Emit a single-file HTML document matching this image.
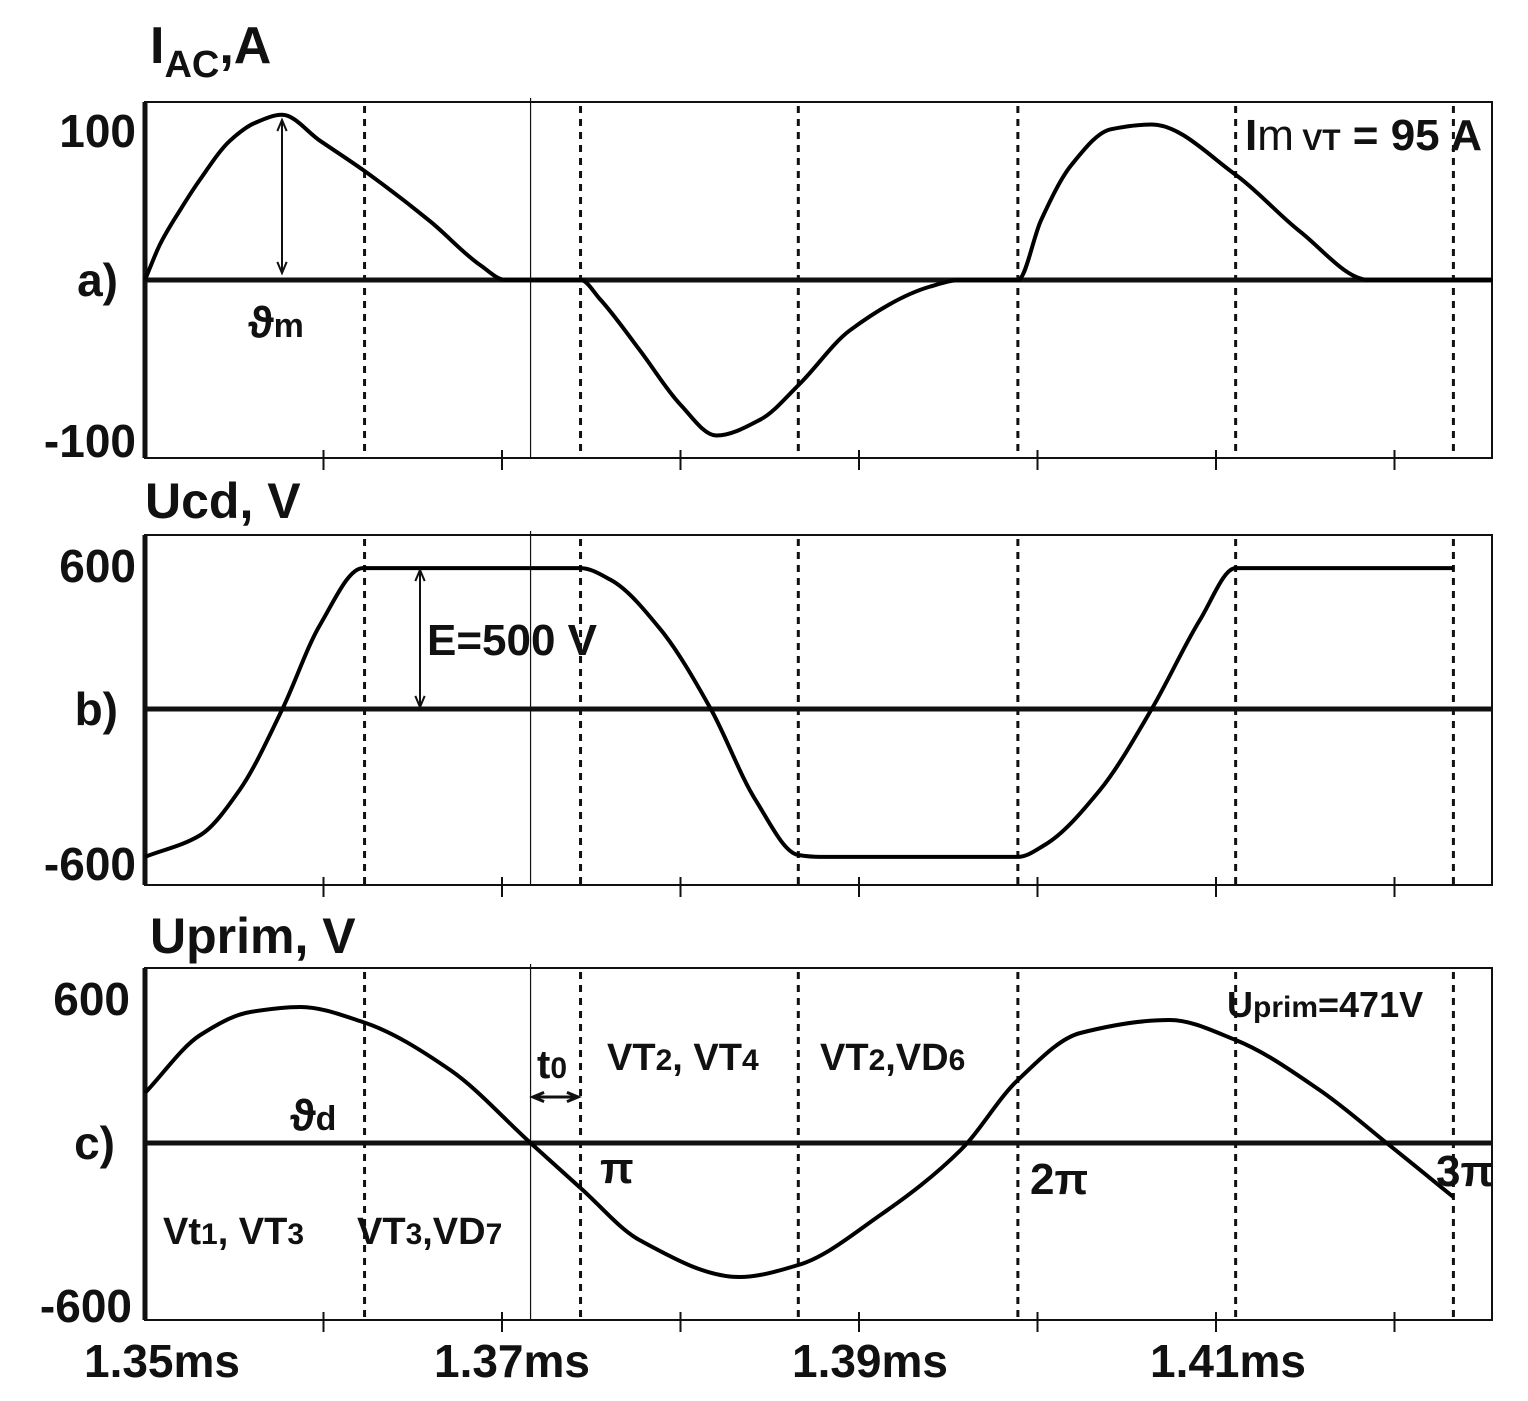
<!DOCTYPE html>
<html><head><meta charset="utf-8">
<style>
html,body{margin:0;padding:0;background:#fff;}
svg{display:block;}
text{font-family:"Liberation Sans",Arial,sans-serif;font-weight:bold;fill:#111;}
</style></head>
<body>
<svg id="chart" width="1528" height="1401" viewBox="0 0 1528 1401" xmlns="http://www.w3.org/2000/svg">
<g id="frames"></g>
<g id="curves"></g>
<g id="labels">
  <text x="150" y="63" font-size="52">I<tspan font-size="38" dy="14">AC</tspan><tspan dy="-14">,A</tspan></text>
  <text x="145" y="518" font-size="50">Ucd, V</text>
  <text x="150" y="953" font-size="50">Uprim, V</text>

  <text x="136" y="147" font-size="46" text-anchor="end">100</text>
  <text x="118" y="296" font-size="46" text-anchor="end">a)</text>
  <text x="136" y="457" font-size="46" text-anchor="end">-100</text>

  <text x="136" y="582" font-size="46" text-anchor="end">600</text>
  <text x="118" y="725" font-size="46" text-anchor="end">b)</text>
  <text x="136" y="880" font-size="46" text-anchor="end">-600</text>

  <text x="130" y="1015" font-size="46" text-anchor="end">600</text>
  <text x="115" y="1159" font-size="46" text-anchor="end">c)</text>
  <text x="132" y="1322" font-size="46" text-anchor="end">-600</text>

  <text x="162" y="1377" font-size="46" text-anchor="middle">1.35ms</text>
  <text x="512" y="1377" font-size="46" text-anchor="middle">1.37ms</text>
  <text x="870" y="1377" font-size="46" text-anchor="middle">1.39ms</text>
  <text x="1228" y="1377" font-size="46" text-anchor="middle">1.41ms</text>

  <text x="248" y="337" font-size="44">ϑ<tspan font-size="34">m</tspan></text>
  <text x="1482" y="150" font-size="44" text-anchor="end">I<tspan font-weight="normal">m</tspan><tspan font-size="30"> VT</tspan> = 95 A</text>
  <text x="427" y="655" font-size="44">E=500 V</text>
  <text x="1227" y="1017" font-size="36">U<tspan font-size="30">prim</tspan>=471V</text>
  <text x="537" y="1078" font-size="40">t<tspan font-size="30">0</tspan></text>
  <text x="607" y="1070" font-size="38">VT<tspan font-size="30">2</tspan>, VT<tspan font-size="30">4</tspan></text>
  <text x="820" y="1070" font-size="38">VT<tspan font-size="30">2</tspan>,VD<tspan font-size="30">6</tspan></text>
  <text x="290" y="1130" font-size="44">ϑ<tspan font-size="34">d</tspan></text>
  <text x="600" y="1183" font-size="44">π</text>
  <text x="1030" y="1194" font-size="44">2π</text>
  <text x="1436" y="1186" font-size="44">3π</text>
  <text x="163" y="1244" font-size="38">Vt<tspan font-size="30">1</tspan>, VT<tspan font-size="30">3</tspan></text>
  <text x="357" y="1244" font-size="38">VT<tspan font-size="30">3</tspan>,VD<tspan font-size="30">7</tspan></text>
</g>
</svg>
<script>
// time axis (ms)
const tickTimes = [1.36, 1.37, 1.38, 1.39, 1.40, 1.41, 1.42];
const dottedTimes = [1.3623, 1.3744, 1.3866, 1.3989, 1.4111, 1.4233];
const solidTime = 1.3716;
// panel a: I_AC (A)
const aTimes = [1.35, 1.35084, 1.35196, 1.35308, 1.35476, 1.35616, 1.35768, 1.3598, 1.3622, 1.3660, 1.3688, 1.3702, 1.3744, 1.3755, 1.3777, 1.3800, 1.3820, 1.3845, 1.3866, 1.3895, 1.3940, 1.3957, 1.3989, 1.4002, 1.4019, 1.4041, 1.4064, 1.4111, 1.4147, 1.4186, 1.4255];
const aValues = [0, 22, 43, 62, 86, 97, 102, 86, 68, 36, 9, 0, 0, -12, -43, -77, -96, -86, -65, -31, -4, 0, 0, 37, 71, 93, 96, 65, 30, 0, 0];
// panel b: Ucd (V)
const bTimes = [1.35, 1.3531, 1.3553, 1.3577, 1.3598, 1.3622, 1.3744, 1.3761, 1.3789, 1.3817, 1.3842, 1.3866, 1.3878, 1.3989, 1.4004, 1.4035, 1.4064, 1.4091, 1.4111, 1.4233];
const bValues = [-610, -520, -334, 0, 346, 581, 581, 532, 326, 0, -375, -602, -610, -610, -561, -334, 0, 367, 581, 581];
// panel c: Uprim (V)
const cTimes1 = [1.35, 1.3531, 1.3559, 1.3587, 1.3622, 1.3671, 1.3716, 1.3744];
const cValues1 = [200, 432, 524, 544, 484, 292, 0, -180];
const cTimes2 = [1.3744, 1.3777, 1.3833, 1.3866, 1.3912, 1.3957, 1.3989, 1.4024, 1.4074, 1.4111, 1.4158, 1.4197, 1.4233];
const cValues2 = [-180, -388, -536, -488, -288, -28, 252, 440, 492, 412, 212, -8, -216];

const NS = 'http://www.w3.org/2000/svg';
const X0 = 145, X1 = 1492;
function xs(t){ return X0 + (t - 1.35) / 0.01 * 178.5; }
const panels = [
  {top:102, bottom:458, zero:280, k:1.62},
  {top:535, bottom:885, zero:709, k:0.2425},
  {top:968, bottom:1320, zero:1143, k:0.25}
];
function ys(p, v){ return p.zero - v * p.k; }

function mk(tag, attrs, parent){
  const e = document.createElementNS(NS, tag);
  for (const k in attrs) e.setAttribute(k, attrs[k]);
  parent.appendChild(e);
  return e;
}
const frames = document.getElementById('frames');
const curves = document.getElementById('curves');

panels.forEach((p, i) => {
  const g = mk('g', {}, frames);
  
  
  const box = mk('rect', {x:X0, y:p.top, width:X1-X0, height:p.bottom-p.top, fill:'none', stroke:'#111', 'stroke-width':2}, g);
  
  
  const yAx = mk('line', {x1:X0, y1:p.top, x2:X0, y2:p.bottom, stroke:'#111', 'stroke-width':5}, g);
  
  
  tickTimes.forEach(t => {
    const tk = mk('line', {x1:xs(t), y1:p.bottom-8, x2:xs(t), y2:p.bottom+12, stroke:'#111', 'stroke-width':2}, g);
    
    
  });
  dottedTimes.forEach(t => {
    const d = mk('line', {x1:xs(t), y1:p.top+4, x2:xs(t), y2:p.bottom, stroke:'#111', 'stroke-width':3, 'stroke-dasharray':'7,6'}, g);
    
    
  });
  const s = mk('line', {x1:xs(solidTime), y1:p.top-4, x2:xs(solidTime), y2:p.bottom, stroke:'#111', 'stroke-width':1.2}, g);
  
  
  const z = mk('line', {x1:X0, y1:p.zero, x2:X1, y2:p.zero, stroke:'#111', 'stroke-width':5}, g);
  
  
});

// monotone cubic path
function monoPath(px, py){
  const n = px.length, d = [], m = new Array(n);
  for (let i=0;i<n-1;i++) d.push((py[i+1]-py[i])/(px[i+1]-px[i]));
  m[0]=d[0]; m[n-1]=d[n-2];
  for (let i=1;i<n-1;i++){
    if (d[i-1]*d[i] <= 0) m[i]=0;
    else { const h0=px[i]-px[i-1], h1=px[i+1]-px[i]; const w1=2*h1+h0, w2=h1+2*h0; m[i]=(w1+w2)/(w1/d[i-1]+w2/d[i]); }
  }
  let s = 'M' + px[0].toFixed(1) + ',' + py[0].toFixed(1);
  for (let i=0;i<n-1;i++){
    const h=(px[i+1]-px[i])/3;
    s += ' C' + (px[i]+h).toFixed(1)+','+(py[i]+m[i]*h).toFixed(1)+' '+(px[i+1]-h).toFixed(1)+','+(py[i+1]-m[i+1]*h).toFixed(1)+' '+px[i+1].toFixed(1)+','+py[i+1].toFixed(1);
  }
  return s;
}
function drawSeries(times, vals, p, name){
  const path = mk('path', {d: monoPath(times.map(xs), vals.map(v => ys(p, v))), fill:'none', stroke:'#000', 'stroke-width':4, 'stroke-linejoin':'round'}, curves);
  
  
}
drawSeries(aTimes, aValues, panels[0], 'iac-curve');
drawSeries(bTimes, bValues, panels[1], 'ucd-curve');
drawSeries(cTimes1, cValues1, panels[2], 'uprim-curve-part1');
drawSeries(cTimes2, cValues2, panels[2], 'uprim-curve-part2');

// double arrows
function dArrow(x1,y1,x2,y2,name,w){
  const g = mk('g', {}, curves);
  
  
  mk('line', {x1:x1,y1:y1,x2:x2,y2:y2,stroke:'#111','stroke-width':w}, g);
  const ang = Math.atan2(y2-y1, x2-x1), L=12, A=0.4;
  [[x1,y1,ang+Math.PI],[x2,y2,ang]].forEach(([x,y,a]) => {
    mk('polyline', {points:`${x-L*Math.cos(a-A)},${y-L*Math.sin(a-A)} ${x},${y} ${x-L*Math.cos(a+A)},${y-L*Math.sin(a+A)}`, fill:'none', stroke:'#111','stroke-width':w}, g);
  });
}
dArrow(282,120,282,273,'theta-m-arrow',2);
dArrow(420,570,420,707,'e-arrow',2);
dArrow(533,1097,578,1097,'t0-arrow',3);
</script>
</body></html>
